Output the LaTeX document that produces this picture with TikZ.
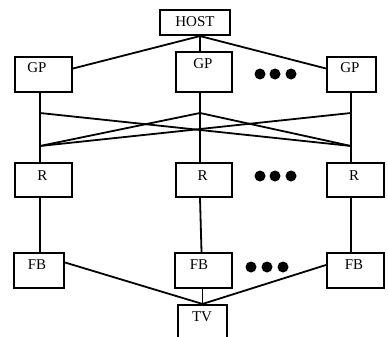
\documentclass[tikz,border=0pt]{standalone}
\usepackage{fontspec}
\setmainfont{Liberation Serif}
\begin{document}
\begin{tikzpicture}[x=1pt,y=-1pt,
  box/.style={draw, line width=2.1pt, inner sep=0pt, rectangle},
  lbl/.style={inner sep=0pt, font=\fontsize{15}{17}\selectfont},
  wire/.style={line width=1.8pt},
  dot/.style={fill=black, draw=none}]
\useasboundingbox (0,0) rectangle (388,337);
\clip (0,0) rectangle (388,337);

% boxes: centre, width, height
\node[box, minimum width=70pt, minimum height=25pt] (host) at (195,22.5) {};
\node[box, minimum width=57pt, minimum height=35pt] (gp1) at (43.5,74.5) {};
\node[box, minimum width=56pt, minimum height=40pt] (gp2) at (204,72) {};
\node[box, minimum width=49pt, minimum height=35pt] (gp3) at (351.5,74.5) {};
\node[box, minimum width=57pt, minimum height=34pt] (r1) at (43.5,180) {};
\node[box, minimum width=56pt, minimum height=34pt] (r2) at (204,180) {};
\node[box, minimum width=57pt, minimum height=34pt] (r3) at (355.5,180) {};
\node[box, minimum width=50pt, minimum height=35pt] (fb1) at (39,270.5) {};
\node[box, minimum width=57pt, minimum height=35pt] (fb2) at (203.5,270.5) {};
\node[box, minimum width=57pt, minimum height=35pt] (fb3) at (355.5,270.5) {};
\node[box, minimum width=49pt, minimum height=40pt] (tv) at (202.5,325) {};

% labels
\node[lbl] (hostt) at (195,22) {HOST};
\node[lbl] (gp1t) at (37,68) {GP};
\node[lbl] (gp2t) at (203,64) {GP};
\node[lbl] (gp3t) at (350,68) {GP};
\node[lbl] (r1t) at (42.5,176) {R};
\node[lbl] (r2t) at (202.5,176) {R};
\node[lbl] (r3t) at (354,176) {R};
\node[lbl] (fb1t) at (37,265) {FB};
\node[lbl] (fb2t) at (199,265) {FB};
\node[lbl] (fb3t) at (354,265) {FB};
\node[lbl] (tvt) at (202,317) {TV};

% crossbar tap points
\coordinate (a1t) at (40,113);
\coordinate (a1b) at (40,146);
\coordinate (a2t) at (200,113);
\coordinate (a3t) at (351,113);
\coordinate (a3b) at (351,146);

% host to graphics processors
\coordinate (hj) at ([xshift=5pt]host.south);
\draw[wire] (hj) -- ([yshift=6pt]gp1.east);
\draw[wire] (hj) -- ([xshift=-4pt]gp2.north);
\draw[wire] (hj) -- ([yshift=6pt]gp3.west);

% graphics processors down to R units
\draw[wire] (gp1.south -| a1t) -- (r1.north -| a1t);
\draw[wire] (gp2.south -| a2t) -- (r2.north -| a2t);
\draw[wire] (gp3.south -| a3t) -- (r3.north -| a3t);

% crossbar
\draw[wire] (a1t) -- (a3b);
\draw[wire] (a1b) -- (a3t);
\draw[wire] (a1b) -- (a2t) -- (a3b);

% R units down to frame buffers
\draw[wire] (r1.south -| a1t) -- (fb1.north -| a1t);
\draw[wire] (r2.south -| a2t) -- ([xshift=-2pt]fb2.north);
\draw[wire] (r3.south -| a3t) -- (fb3.north -| a3t);

% frame buffers to TV
\draw[wire] ([yshift=8pt]fb1.east) -- (tv.north);
\draw[wire] (fb2.south -| tv.north) -- (tv.north);
\draw[wire] ([yshift=5.5pt]fb3.west) -- (tv.north);

% ellipsis dots
\foreach \x in {260,275,291} \fill[dot] (\x,74) circle (5.5pt);
\foreach \x in {260,275,291} \fill[dot] (\x,176) circle (5.5pt);
\foreach \x in {251,267,283} \fill[dot] (\x,267) circle (5.5pt);
\end{tikzpicture}
\end{document}
